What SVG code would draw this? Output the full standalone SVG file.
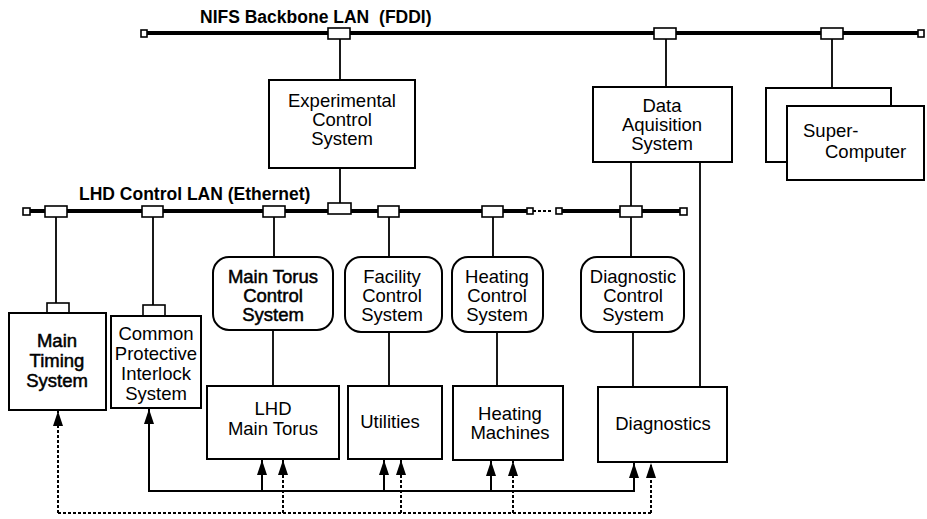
<svg xmlns="http://www.w3.org/2000/svg" width="927" height="519" viewBox="0 0 927 519">
<defs>
<style>
.t{font-family:"Liberation Sans",Arial,Helvetica,sans-serif;font-size:18.5px;fill:#000;text-anchor:middle}
.tb{stroke:#000;stroke-width:0.5}
.ttl{font-family:"Liberation Sans",Arial,Helvetica,sans-serif;font-weight:bold;font-size:17.5px;fill:#000}
.box{fill:#fff;stroke:#000;stroke-width:2}
.tap{fill:#fff;stroke:#000;stroke-width:1.6}
.lan{stroke:#000;stroke-width:3.8;fill:none}
.ln{stroke:#000;stroke-width:1.8;fill:none}
.sol{stroke:#000;stroke-width:2;fill:none}
.dot{stroke:#000;stroke-width:2;fill:none;stroke-dasharray:3 2}
</style>
<marker id="ah" markerUnits="userSpaceOnUse" markerWidth="15" markerHeight="10" refX="15" refY="5" orient="auto">
<path d="M0,0 L15,5 L0,10 z" fill="#000"/>
</marker>
</defs>
<rect width="927" height="519" fill="#fff"/>

<text class="ttl" x="200" y="23">NIFS Backbone LAN <tspan dx="5">(FDDI)</tspan></text>
<text class="ttl" x="79" y="200">LHD Control LAN (Ethernet)</text>

<g id="connectors">
<line class="lan" x1="147" y1="33" x2="918" y2="33"/>
<rect class="tap" x="141" y="30" width="6" height="7"/>
<rect class="tap" x="918" y="30" width="6" height="7"/>
<rect class="tap" x="328" y="28" width="22" height="11"/>
<rect class="tap" x="654" y="28" width="22" height="11"/>
<rect class="tap" x="821" y="28" width="22" height="11"/>
<line class="ln" x1="340" y1="39" x2="340" y2="80"/>
<line class="ln" x1="666" y1="39" x2="666" y2="87"/>
<line class="ln" x1="832" y1="39" x2="832" y2="88"/>
<line class="ln" x1="340" y1="168" x2="340" y2="203"/>
<line class="ln" x1="631" y1="162" x2="631" y2="206"/>
<line class="ln" x1="700" y1="162" x2="700" y2="387"/>
<line class="lan" x1="30" y1="211" x2="527" y2="211"/>
<line class="sol" x1="533" y1="211" x2="553" y2="211" stroke-dasharray="3 2" stroke-width="3"/>
<line class="lan" x1="562" y1="211" x2="680" y2="211"/>
<rect class="tap" x="23" y="208" width="7" height="7"/>
<rect class="tap" x="527" y="208" width="6" height="6"/>
<rect class="tap" x="556" y="208" width="6" height="6"/>
<rect class="tap" x="680" y="208" width="7" height="7"/>
<rect class="tap" x="45" y="206" width="22" height="11"/>
<rect class="tap" x="142" y="206" width="21" height="11"/>
<rect class="tap" x="263" y="206" width="22" height="11"/>
<rect class="tap" x="328" y="203" width="23" height="11"/>
<rect class="tap" x="378" y="206" width="21" height="11"/>
<rect class="tap" x="482" y="206" width="21" height="11"/>
<rect class="tap" x="620" y="206" width="22" height="11"/>
<line class="ln" x1="56" y1="217" x2="56" y2="303"/>
<line class="ln" x1="153" y1="217" x2="153" y2="305"/>
<line class="ln" x1="274" y1="217" x2="274" y2="257"/>
<line class="ln" x1="389" y1="217" x2="389" y2="257"/>
<line class="ln" x1="493" y1="217" x2="493" y2="257"/>
<line class="ln" x1="631" y1="217" x2="631" y2="257"/>
<line class="ln" x1="273" y1="330" x2="273" y2="386"/>
<line class="ln" x1="389" y1="332" x2="389" y2="386"/>
<line class="ln" x1="497" y1="332" x2="497" y2="386"/>
<line class="ln" x1="633" y1="332" x2="633" y2="387"/>
<line class="sol" x1="149" y1="491" x2="634" y2="491"/>
<line class="sol" x1="149" y1="492" x2="149" y2="409" marker-end="url(#ah)"/>
<line class="sol" x1="262" y1="491" x2="262" y2="460" marker-end="url(#ah)"/>
<line class="sol" x1="384" y1="491" x2="384" y2="460" marker-end="url(#ah)"/>
<line class="sol" x1="491" y1="491" x2="491" y2="461" marker-end="url(#ah)"/>
<line class="sol" x1="634" y1="492" x2="634" y2="463" marker-end="url(#ah)"/>
<line class="dot" x1="58" y1="513" x2="651" y2="513"/>
<line class="dot" x1="58" y1="513" x2="58" y2="411" marker-end="url(#ah)"/>
<line class="dot" x1="283" y1="513" x2="283" y2="460" marker-end="url(#ah)"/>
<line class="dot" x1="401" y1="513" x2="401" y2="460" marker-end="url(#ah)"/>
<line class="dot" x1="513" y1="513" x2="513" y2="461" marker-end="url(#ah)"/>
<line class="dot" x1="651" y1="513" x2="651" y2="463" marker-end="url(#ah)"/>
</g>

<g id="ecs">
<rect class="box" x="269" y="80" width="146" height="88"/>
<text class="t" x="342" y="107">Experimental</text>
<text class="t" x="342" y="126">Control</text>
<text class="t" x="342" y="145">System</text>
</g>
<g id="das">
<rect class="box" x="593" y="87" width="139" height="75"/>
<text class="t" x="662" y="112">Data</text>
<text class="t" x="662" y="131">Aquisition</text>
<text class="t" x="662" y="150">System</text>
</g>
<g id="super">
<rect class="box" x="766" y="88" width="125" height="74"/>
<rect class="box" x="787" y="106" width="137" height="74"/>
<text class="t" x="803" y="137" style="text-anchor:start">Super-</text>
<text class="t" x="825" y="158" style="text-anchor:start">Computer</text>
</g>
<g id="timing">
<rect class="tap" x="47" y="303" width="22" height="10"/>
<rect class="box" x="9" y="313" width="97" height="97"/>
<text class="t tb" x="57" y="347">Main</text>
<text class="t tb" x="57" y="367">Timing</text>
<text class="t tb" x="57" y="387">System</text>
</g>
<g id="cpi">
<rect class="tap" x="143" y="305" width="22" height="11"/>
<rect class="box" x="111" y="316" width="90" height="92"/>
<text class="t" x="156" y="340">Common</text>
<text class="t" x="156" y="360">Protective</text>
<text class="t" x="156" y="380">Interlock</text>
<text class="t" x="156" y="400">System</text>
</g>
<g id="mtcs">
<rect class="box" x="213" y="257" width="120" height="73" rx="16"/>
<text class="t tb" x="273" y="283">Main Torus</text>
<text class="t tb" x="273" y="302">Control</text>
<text class="t tb" x="273" y="321">System</text>
</g>
<g id="fcs">
<rect class="box" x="345" y="257" width="97" height="75" rx="16"/>
<text class="t" x="392" y="283">Facility</text>
<text class="t" x="392" y="302">Control</text>
<text class="t" x="392" y="321">System</text>
</g>
<g id="hcs">
<rect class="box" x="452" y="257" width="91" height="75" rx="16"/>
<text class="t" x="497" y="283">Heating</text>
<text class="t" x="497" y="302">Control</text>
<text class="t" x="497" y="321">System</text>
</g>
<g id="dcs">
<rect class="box" x="581" y="257" width="103" height="75" rx="16"/>
<text class="t" x="633" y="283">Diagnostic</text>
<text class="t" x="633" y="302">Control</text>
<text class="t" x="633" y="321">System</text>
</g>
<g id="torus">
<rect class="box" x="207" y="386" width="132" height="73"/>
<text class="t" x="273" y="415">LHD</text>
<text class="t" x="273" y="435">Main Torus</text>
</g>
<g id="util">
<rect class="box" x="348" y="386" width="94" height="73"/>
<text class="t" x="390" y="428">Utilities</text>
</g>
<g id="heat">
<rect class="box" x="453" y="386" width="110" height="74"/>
<text class="t" x="510" y="420">Heating</text>
<text class="t" x="510" y="439">Machines</text>
</g>
<g id="diag">
<rect class="box" x="598" y="387" width="129" height="75"/>
<text class="t" x="663" y="430">Diagnostics</text>
</g>
</svg>
